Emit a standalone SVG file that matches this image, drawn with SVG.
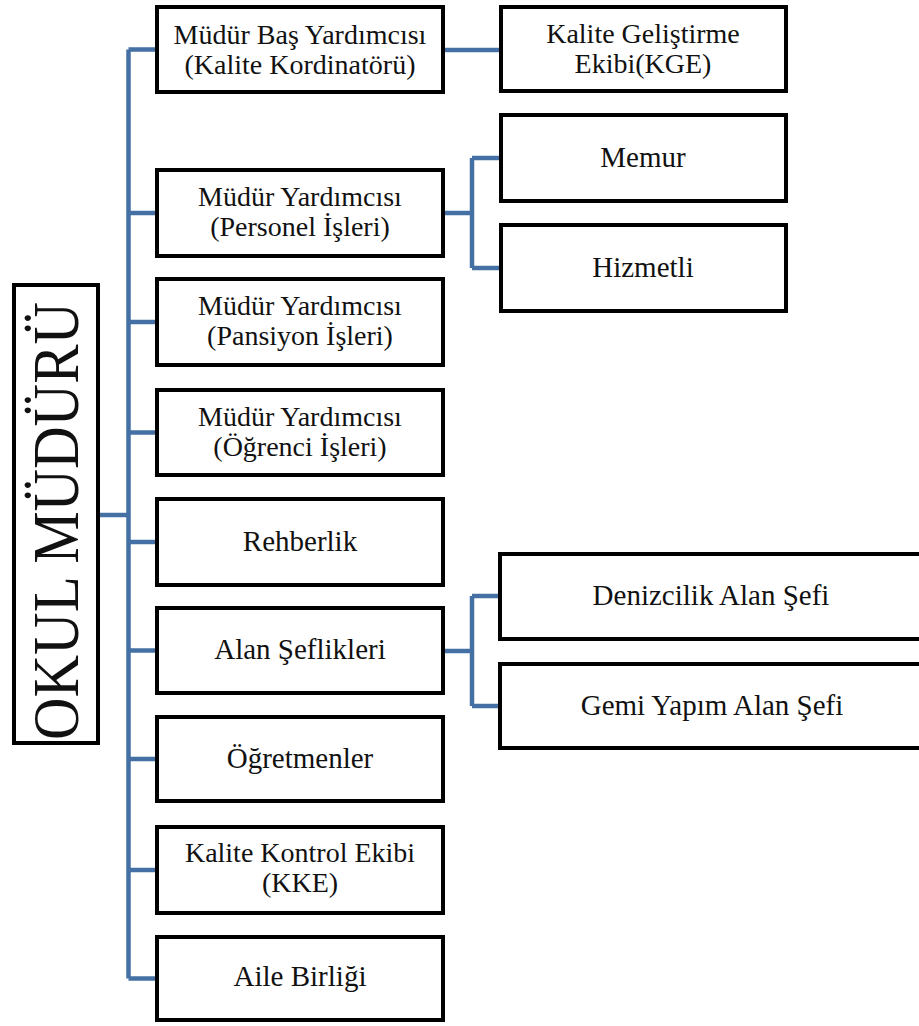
<svg xmlns="http://www.w3.org/2000/svg" width="919" height="1026" viewBox="0 0 919 1026">
<style>
.box{fill:#ffffff;stroke:#000000;stroke-width:4}
.t{font-family:"Liberation Serif","Times New Roman",serif;font-size:29px;fill:#111111;text-anchor:middle}
.t2{font-family:"Liberation Serif","Times New Roman",serif;font-size:28px;fill:#111111;text-anchor:middle}
.c{fill:none;stroke:#4470a4;stroke-width:4.5}
</style>
<rect width="919" height="1026" fill="#ffffff"/>
<g id="connectors">
<path class="c" d="M128.5 49.5 V978.5"/>
<path class="c" d="M100 515 H128.5"/>
<path class="c" d="M128.5 49.5 H157 M128.5 213 H157 M128.5 322 H157 M128.5 432.5 H157 M128.5 542 H157 M128.5 650.5 H157 M128.5 759 H157 M128.5 870 H157 M128.5 978.5 H157"/>
<path class="c" d="M443 50 H501"/>
<path class="c" d="M443 213 H472 M472 158 V268 M472 158 H501 M472 268 H501"/>
<path class="c" d="M443 651 H472 M472 596 V706 M472 596 H500 M472 706 H500"/>
</g>
<g id="okul">
<rect class="box" x="14" y="285" width="84" height="458"/>
<text class="t" style="font-size:66px" textLength="438" lengthAdjust="spacingAndGlyphs" transform="translate(78,521) rotate(-90)">OKUL MÜDÜRÜ</text>
</g>
<g id="n1">
<rect class="box" x="157" y="7" width="286" height="85"/>
<text class="t2" x="300" y="44">Müdür Baş Yardımcısı</text>
<text class="t2" x="300" y="74">(Kalite Kordinatörü)</text>
</g>
<g id="n2">
<rect class="box" x="157" y="170" width="286" height="86"/>
<text class="t2" x="300" y="206">Müdür Yardımcısı</text>
<text class="t2" x="300" y="236">(Personel İşleri)</text>
</g>
<g id="n3">
<rect class="box" x="157" y="279" width="286" height="86"/>
<text class="t2" x="300" y="315">Müdür Yardımcısı</text>
<text class="t2" x="300" y="345">(Pansiyon İşleri)</text>
</g>
<g id="n4">
<rect class="box" x="157" y="390" width="286" height="85"/>
<text class="t2" x="300" y="426">Müdür Yardımcısı</text>
<text class="t2" x="300" y="456">(Öğrenci İşleri)</text>
</g>
<g id="n5">
<rect class="box" x="157" y="499" width="286" height="86"/>
<text class="t" x="300" y="551">Rehberlik</text>
</g>
<g id="n6">
<rect class="box" x="157" y="608" width="286" height="85"/>
<text class="t" x="300" y="659">Alan Şeflikleri</text>
</g>
<g id="n7">
<rect class="box" x="157" y="717" width="286" height="84"/>
<text class="t" x="300" y="768">Öğretmenler</text>
</g>
<g id="n8">
<rect class="box" x="157" y="827" width="286" height="86"/>
<text class="t2" x="300" y="862">Kalite Kontrol Ekibi</text>
<text class="t2" x="300" y="892">(KKE)</text>
</g>
<g id="n9">
<rect class="box" x="157" y="937" width="286" height="83"/>
<text class="t" x="300" y="986">Aile Birliği</text>
</g>
<g id="kge">
<rect class="box" x="501" y="7" width="285" height="84"/>
<text class="t2" x="643" y="43">Kalite Geliştirme</text>
<text class="t2" x="643" y="73">Ekibi(KGE)</text>
</g>
<g id="memur">
<rect class="box" x="501" y="115" width="285" height="86"/>
<text class="t" x="643" y="167">Memur</text>
</g>
<g id="hizmetli">
<rect class="box" x="501" y="225" width="285" height="86"/>
<text class="t" x="643" y="277">Hizmetli</text>
</g>
<g id="denizcilik">
<rect class="box" x="500" y="554" width="430" height="85"/>
<text class="t" x="711" y="605">Denizcilik Alan Şefi</text>
</g>
<g id="gemi">
<rect class="box" x="500" y="664" width="430" height="84"/>
<text class="t" x="712" y="715">Gemi Yapım Alan Şefi</text>
</g>
</svg>
